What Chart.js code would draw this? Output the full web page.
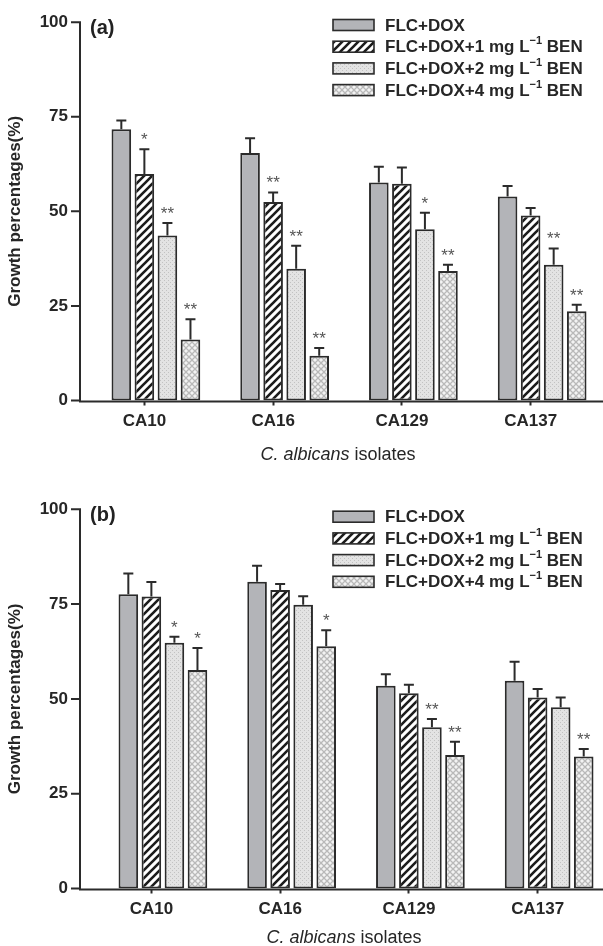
<!DOCTYPE html>
<html><head><meta charset="utf-8">
<script src="https://cdn.jsdelivr.net/npm/chart.js@4.4.0/dist/chart.umd.min.js"></script>
<style>
html,body{margin:0;padding:0;background:#fff;overflow:hidden;width:603px;height:946px}
.p{position:absolute;left:0;width:603px}
#wa{top:0;height:470px}
#wb{top:470px;height:476px}
</style></head><body>
<div class="p" id="wa"><canvas id="ca"></canvas></div>
<div class="p" id="wb"><canvas id="cb"></canvas></div>
<script>
// ---- data ----
const categories = ['CA10', 'CA16', 'CA129', 'CA137'];
const seriesNames = ['FLC+DOX', 'FLC+DOX+1 mg L{\u22121} BEN', 'FLC+DOX+2 mg L{\u22121} BEN', 'FLC+DOX+4 mg L{\u22121} BEN'];
const yTicks = [0, 25, 50, 75, 100];
const yTitle = 'Growth percentages(%)';
const xTitleItalic = 'C. albicans';
const xTitleRest = ' isolates';

// panel (a)
const a_flcdox = [71.7, 65.4, 57.6, 53.9];
const a_flcdox_err = [2.3, 3.9, 4.2, 2.8];
const a_ben1 = [59.9, 52.5, 57.3, 48.9];
const a_ben1_err = [6.5, 2.5, 4.3, 2.0];
const a_ben2 = [43.6, 34.8, 45.3, 35.9];
const a_ben2_err = [3.3, 6.1, 4.3, 4.3];
const a_ben4 = [16.1, 11.8, 34.2, 23.6];
const a_ben4_err = [5.4, 2.1, 1.7, 1.7];
const a_sig_flcdox = ['', '', '', ''];
const a_sig_ben1 = ['*', '**', '', ''];
const a_sig_ben2 = ['**', '**', '*', '**'];
const a_sig_ben4 = ['**', '**', '**', '**'];

// panel (b)
const b_flcdox = [77.6, 80.9, 53.5, 54.8];
const b_flcdox_err = [5.5, 4.2, 3.0, 5.0];
const b_ben1 = [77.0, 78.7, 51.5, 50.4];
const b_ben1_err = [3.8, 1.6, 2.2, 2.2];
const b_ben2 = [64.8, 74.8, 42.5, 47.8];
const b_ben2_err = [1.6, 2.3, 2.2, 2.6];
const b_ben4 = [57.6, 63.9, 35.2, 34.8];
const b_ben4_err = [5.8, 4.2, 3.5, 2.0];
const b_sig_flcdox = ['', '', '', ''];
const b_sig_ben1 = ['', '', '', ''];
const b_sig_ben2 = ['*', '', '**', ''];
const b_sig_ben4 = ['*', '*', '**', '**'];

// ---- styles ----
const INK = '#2b2b2b';
const FONT = "'Liberation Sans', Arial, sans-serif";
const Y_AXIS_X = 80;

function tile(size, draw) {
  const c = document.createElement('canvas');
  c.width = size; c.height = size;
  const g = c.getContext('2d');
  draw(g, size);
  return document.createElement('canvas').getContext('2d').createPattern(c, 'repeat');
}
const patHatch = tile(8, (g, s) => {
  g.fillStyle = '#fff'; g.fillRect(0, 0, s, s);
  g.strokeStyle = '#1c1c1c'; g.lineWidth = 2.6; g.lineCap = 'square';
  g.beginPath();
  g.moveTo(0, s); g.lineTo(s, 0);
  g.moveTo(-2, 2); g.lineTo(2, -2);
  g.moveTo(s - 2, s + 2); g.lineTo(s + 2, s - 2);
  g.stroke();
});
const patDots = tile(4, (g, s) => {
  g.fillStyle = '#e3e3e3'; g.fillRect(0, 0, s, s);
  g.fillStyle = '#c2c2c2';
  g.fillRect(0, 0, 1, 1); g.fillRect(2, 2, 1, 1);
});
const patCross = tile(6, (g, s) => {
  g.fillStyle = '#f3f3f3'; g.fillRect(0, 0, s, s);
  g.strokeStyle = '#b9b9b9'; g.lineWidth = 1.3;
  g.beginPath();
  g.moveTo(0, 0); g.lineTo(s, s);
  g.moveTo(0, s); g.lineTo(s, 0);
  g.stroke();
});
const fills = ['#b3b4b8', patHatch, patDots, patCross];

function drawLabel(ctx, text, x, y, size) {
  const parts = text.split(/(\{[^}]*\})/);
  let cx = x;
  parts.forEach(p => {
    if (!p) return;
    if (p[0] === '{') {
      const t = p.slice(1, -1);
      ctx.font = 'bold ' + Math.round(size * 0.62) + 'px ' + FONT;
      ctx.fillText(t, cx, y - size * 0.38);
      cx += ctx.measureText(t).width;
    } else {
      ctx.font = 'bold ' + size + 'px ' + FONT;
      ctx.fillText(p, cx, y);
      cx += ctx.measureText(p).width;
    }
  });
}

const decor = {
  id: 'decor',
  afterDatasetsDraw(chart) {
    const ctx = chart.ctx;
    const ys = chart.scales.y;
    const o = chart.options.plugins.decor;
    const ca = chart.chartArea;
    ctx.save();
    // y axis line and outward tick marks
    ctx.strokeStyle = INK; ctx.lineWidth = 2;
    ctx.beginPath();
    ctx.moveTo(Y_AXIS_X, ys.getPixelForValue(100) - 1);
    ctx.lineTo(Y_AXIS_X, ca.bottom + 1);
    yTicks.forEach(v => {
      const py = ys.getPixelForValue(v);
      ctx.moveTo(Y_AXIS_X - 9, py); ctx.lineTo(Y_AXIS_X, py);
    });
    // x axis line from the y axis to the right edge
    ctx.moveTo(Y_AXIS_X - 1, ca.bottom + 1); ctx.lineTo(chart.width, ca.bottom + 1);
    ctx.stroke();
    // error bars + asterisks
    for (let d = 1; d < chart.data.datasets.length; d++) {
      const ds = chart.data.datasets[d];
      const meta = chart.getDatasetMeta(d);
      meta.data.forEach((bar, i) => {
        const v = ds.data[i];
        if (v == null) return;
        const yTop = ys.getPixelForValue(v + ds.err[i]);
        ctx.strokeStyle = INK; ctx.lineWidth = 2;
        ctx.beginPath();
        ctx.moveTo(bar.x, bar.y); ctx.lineTo(bar.x, yTop);
        ctx.moveTo(bar.x - 5, yTop); ctx.lineTo(bar.x + 5, yTop);
        ctx.stroke();
        const s = ds.sig[i];
        if (s) {
          ctx.fillStyle = '#555';
          ctx.font = '17px ' + FONT;
          ctx.textAlign = 'center'; ctx.textBaseline = 'alphabetic';
          ctx.fillText(s, bar.x, yTop - 4);
        }
      });
    }
    // panel letter
    ctx.fillStyle = '#222';
    ctx.font = 'bold 20px ' + FONT;
    ctx.textAlign = 'left'; ctx.textBaseline = 'middle';
    ctx.fillText(o.letter, 90, o.letterY);
    // legend
    for (let d = 1; d < chart.data.datasets.length; d++) {
      const ds = chart.data.datasets[d];
      const y = o.legendY + (d - 1) * 21.7;
      ctx.fillStyle = ds.backgroundColor;
      ctx.fillRect(333, y - 5.5, 41, 11);
      ctx.strokeStyle = INK; ctx.lineWidth = 1.6;
      ctx.strokeRect(333, y - 5.5, 41, 11);
      ctx.fillStyle = '#262626';
      ctx.textAlign = 'left'; ctx.textBaseline = 'middle';
      drawLabel(ctx, ds.label, 385, y + 1, 17);
    }
    // y title
    ctx.save();
    ctx.translate(15, (ca.top + ca.bottom) / 2);
    ctx.rotate(-Math.PI / 2);
    ctx.fillStyle = '#262626';
    ctx.font = 'bold 17px ' + FONT;
    ctx.textAlign = 'center'; ctx.textBaseline = 'middle';
    ctx.fillText(yTitle, 0, 0);
    ctx.restore();
    // x title (mixed italic)
    ctx.fillStyle = '#262626';
    ctx.textBaseline = 'middle';
    ctx.font = 'italic 18px ' + FONT;
    const w1 = ctx.measureText(xTitleItalic).width;
    ctx.font = '18px ' + FONT;
    const w2 = ctx.measureText(xTitleRest).width;
    const x0 = o.xTitleX - (w1 + w2) / 2;
    ctx.textAlign = 'left';
    ctx.font = 'italic 18px ' + FONT;
    ctx.fillText(xTitleItalic, x0, o.xTitleY);
    ctx.font = '18px ' + FONT;
    ctx.fillText(xTitleRest, x0 + w1, o.xTitleY);
    ctx.restore();
  }
};

function makePanel(id, g) {
  const datasets = [{ label: '', data: categories.map(() => null), err: [0,0,0,0], sig: ['','','',''], backgroundColor: 'rgba(0,0,0,0)' }];
  for (let k = 0; k < 4; k++) {
    datasets.push({
      label: seriesNames[k],
      data: g.values[k],
      err: g.errs[k],
      sig: g.sigs[k],
      backgroundColor: fills[k],
      borderColor: INK,
      borderWidth: 2,
      borderSkipped: false,
      categoryPercentage: 0.895,
      barPercentage: 0.85
    });
  }
  const left = Y_AXIS_X + g.shift;
  new Chart(document.getElementById(id), {
    type: 'bar',
    data: { labels: categories, datasets },
    options: {
      responsive: true, maintainAspectRatio: false, animation: false,
      devicePixelRatio: 1,
      layout: { padding: { top: g.top, right: 603 - g.right, left: 0, bottom: 0 } },
      plugins: { legend: { display: false }, tooltip: { enabled: false }, decor: g.decor },
      scales: {
        x: {
          offset: true,
          grid: { display: true, drawOnChartArea: false, offset: false, tickLength: 5, tickWidth: 2, tickColor: INK },
          border: { display: false },
          ticks: { color: '#262626', font: { family: FONT, size: 17, weight: 'bold' }, padding: 6, maxRotation: 0 },
          afterFit: s => { s.height = g.h - g.bottom; }
        },
        y: {
          min: 0, max: 100,
          afterBuildTicks: s => { s.ticks = yTicks.map(v => ({ value: v })); },
          grid: { display: false, drawTicks: false },
          border: { display: false },
          ticks: { color: '#262626', font: { family: FONT, size: 17, weight: 'bold' }, padding: left - (Y_AXIS_X - 12) },
          afterFit: s => { s.width = left; }
        }
      }
    },
    plugins: [decor]
  });
}

makePanel('ca', {
  h: 470, top: 20.7, bottom: 400.5, shift: 0, right: 595,
  values: [a_flcdox, a_ben1, a_ben2, a_ben4],
  errs: [a_flcdox_err, a_ben1_err, a_ben2_err, a_ben4_err],
  sigs: [a_sig_flcdox, a_sig_ben1, a_sig_ben2, a_sig_ben4],
  decor: { letter: '(a)', letterY: 28, legendY: 25, xTitleY: 455, xTitleX: 338 }
});
makePanel('cb', {
  h: 476, top: 39.3, bottom: 418.5, shift: 7, right: 602,
  values: [b_flcdox, b_ben1, b_ben2, b_ben4],
  errs: [b_flcdox_err, b_ben1_err, b_ben2_err, b_ben4_err],
  sigs: [b_sig_flcdox, b_sig_ben1, b_sig_ben2, b_sig_ben4],
  decor: { letter: '(b)', letterY: 45, legendY: 46.7, xTitleY: 468, xTitleX: 344 }
});
</script>
</body></html>
